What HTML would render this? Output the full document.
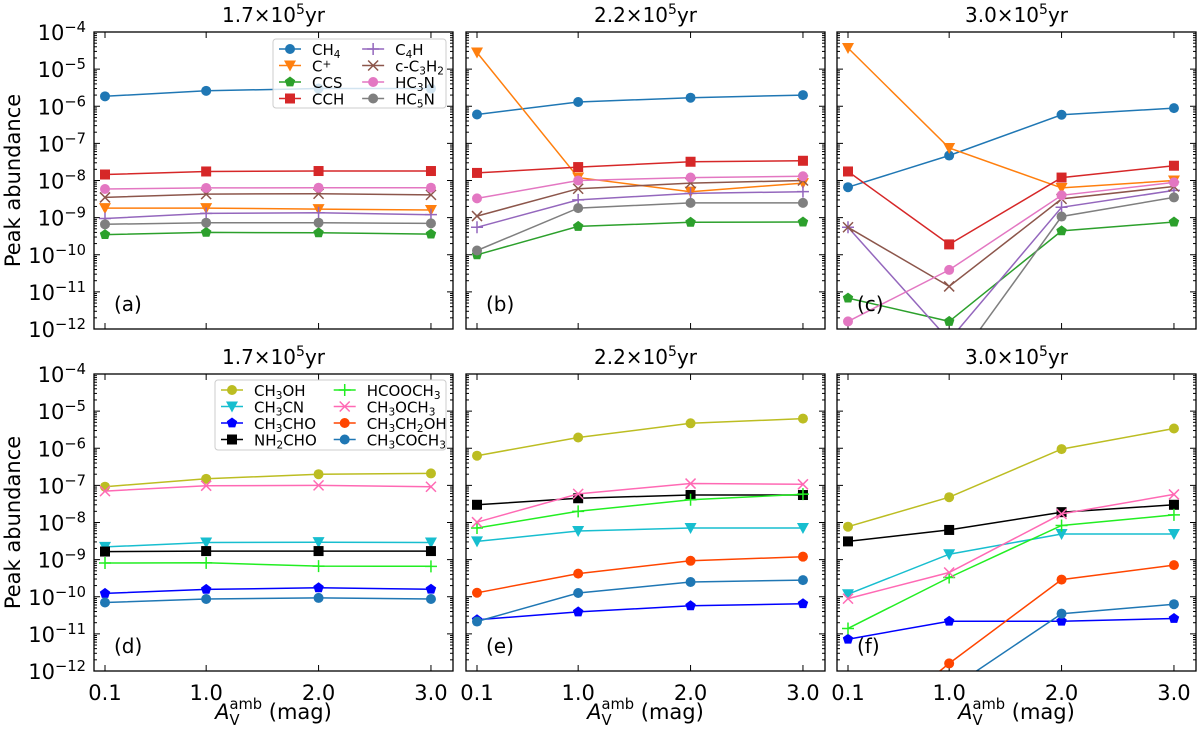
<!DOCTYPE html>
<html><head><meta charset="utf-8"><style>
html,body{margin:0;padding:0;background:#fff}
svg{display:block;font-family:"DejaVu Sans","Liberation Sans",sans-serif}
</style></head><body>
<svg id="fig" width="1200" height="731" viewBox="0 0 1200 731" xmlns="http://www.w3.org/2000/svg"></svg>
<script>
const xCats = [0.1, 1.0, 2.0, 3.0];
const xTickLabels = ["0.1", "1.0", "2.0", "3.0"];
const yTickExps = [-4, -5, -6, -7, -8, -9, -10, -11, -12];
const panelTitles = ["1.7×10", "2.2×10", "3.0×10"];
const panelLetters = [["(a)", "(b)", "(c)"], ["(d)", "(e)", "(f)"]];

const topNames = ["CH4", "C+", "CCS", "CCH", "C4H", "c-C3H2", "HC3N", "HC5N"];
const botNames = ["CH3OH", "CH3CN", "CH3CHO", "NH2CHO", "HCOOCH3", "CH3OCH3", "CH3CH2OH", "CH3COCH3"];

// panel (a) 1.7e5 yr
const a_CH4 = [1.85e-6, 2.6e-6, 3e-6, 3e-6];
const a_Cp = [1.8e-9, 1.8e-9, 1.7e-9, 1.6e-9];
const a_CCS = [3.5e-10, 4e-10, 3.9e-10, 3.6e-10];
const a_CCH = [1.45e-8, 1.75e-8, 1.8e-8, 1.8e-8];
const a_C4H = [9.5e-10, 1.3e-9, 1.35e-9, 1.2e-9];
const a_cC3H2 = [3.5e-9, 4.3e-9, 4.4e-9, 4.1e-9];
const a_HC3N = [5.9e-9, 6.3e-9, 6.4e-9, 6.4e-9];
const a_HC5N = [6.6e-10, 7.3e-10, 7.3e-10, 7e-10];
// panel (b)
const b_CH4 = [6e-7, 1.3e-6, 1.7e-6, 2e-6];
const b_Cp = [2.8e-5, 1.2e-8, 5e-9, 8.5e-9];
const b_CCS = [1e-10, 5.8e-10, 7.5e-10, 7.6e-10];
const b_CCH = [1.6e-8, 2.3e-8, 3.2e-8, 3.4e-8];
const b_C4H = [5.5e-10, 3e-9, 4.5e-9, 5e-9];
const b_cC3H2 = [1.1e-9, 6e-9, 8.5e-9, 1e-8];
const b_HC3N = [3.3e-9, 1e-8, 1.2e-8, 1.3e-8];
const b_HC5N = [1.3e-10, 1.8e-9, 2.5e-9, 2.5e-9];
// panel (c)
const c_CH4 = [6.6e-9, 4.7e-8, 5.9e-7, 8.9e-7];
const c_Cp = [3.7e-5, 7.5e-8, 6.3e-9, 1e-8];
const c_CCS = [6.8e-12, 1.6e-12, 4.4e-10, 7.6e-10];
const c_CCH = [1.75e-8, 1.9e-10, 1.2e-8, 2.5e-8];
const c_C4H = [5.5e-10, 5e-13, 1.9e-9, 5.4e-9];
const c_cC3H2 = [5.5e-10, 1.4e-11, 3.2e-9, 6.9e-9];
const c_HC3N = [1.6e-12, 3.9e-11, 4e-9, 8.9e-9];
const c_HC5N = [1e-13, 7e-14, 1.07e-9, 3.5e-9];
// panel (d)
const d_CH3OH = [9.2e-8, 1.5e-7, 2e-7, 2.1e-7];
const d_CH3CN = [2.2e-9, 2.9e-9, 2.95e-9, 2.9e-9];
const d_CH3CHO = [1.23e-10, 1.58e-10, 1.74e-10, 1.6e-10];
const d_NH2CHO = [1.65e-9, 1.7e-9, 1.7e-9, 1.7e-9];
const d_HCOOCH3 = [8.1e-10, 8.2e-10, 6.7e-10, 6.6e-10];
const d_CH3OCH3 = [7e-8, 9.8e-8, 1e-7, 9.2e-8];
const d_CH3CH2OH = [1e-14, 1e-14, 1e-14, 1e-14];
const d_CH3COCH3 = [7e-11, 8.7e-11, 9.3e-11, 8.7e-11];
// panel (e)
const e_CH3OH = [6.3e-7, 1.95e-6, 4.7e-6, 6.3e-6];
const e_CH3CN = [3.1e-9, 5.9e-9, 7.1e-9, 7.1e-9];
const e_CH3CHO = [2.4e-11, 3.9e-11, 5.7e-11, 6.5e-11];
const e_NH2CHO = [3e-8, 4.5e-8, 5.5e-8, 5.5e-8];
const e_HCOOCH3 = [7.1e-9, 2e-8, 4.1e-8, 5.8e-8];
const e_CH3OCH3 = [1.02e-8, 5.9e-8, 1.12e-7, 1.07e-7];
const e_CH3CH2OH = [1.28e-10, 4.2e-10, 9.3e-10, 1.2e-9];
const e_CH3COCH3 = [2.15e-11, 1.26e-10, 2.5e-10, 2.8e-10];
// panel (f)
const f_CH3OH = [7.7e-9, 4.8e-8, 9.5e-7, 3.4e-6];
const f_CH3CN = [1.17e-10, 1.4e-9, 4.9e-9, 4.9e-9];
const f_CH3CHO = [7.2e-12, 2.2e-11, 2.2e-11, 2.6e-11];
const f_NH2CHO = [3.1e-9, 6.3e-9, 1.9e-8, 3e-8];
const f_HCOOCH3 = [1.4e-11, 3.3e-10, 8.3e-9, 1.6e-8];
const f_CH3OCH3 = [8.9e-11, 4.5e-10, 1.7e-8, 5.7e-8];
const f_CH3CH2OH = [1e-14, 1.6e-12, 2.9e-10, 7.1e-10];
const f_CH3COCH3 = [1e-14, 3.2e-13, 3.5e-11, 6.3e-11];

const topData = [
  [a_CH4, a_Cp, a_CCS, a_CCH, a_C4H, a_cC3H2, a_HC3N, a_HC5N],
  [b_CH4, b_Cp, b_CCS, b_CCH, b_C4H, b_cC3H2, b_HC3N, b_HC5N],
  [c_CH4, c_Cp, c_CCS, c_CCH, c_C4H, c_cC3H2, c_HC3N, c_HC5N]];
const botData = [
  [d_CH3OH, d_CH3CN, d_CH3CHO, d_NH2CHO, d_HCOOCH3, d_CH3OCH3, d_CH3CH2OH, d_CH3COCH3],
  [e_CH3OH, e_CH3CN, e_CH3CHO, e_NH2CHO, e_HCOOCH3, e_CH3OCH3, e_CH3CH2OH, e_CH3COCH3],
  [f_CH3OH, f_CH3CN, f_CH3CHO, f_NH2CHO, f_HCOOCH3, f_CH3OCH3, f_CH3CH2OH, f_CH3COCH3]];

const topStyle = [["#1f77b4","o"],["#ff7f0e","v"],["#2ca02c","p"],["#d62728","s"],["#9467bd","+"],["#8c564b","x"],["#e377c2","o"],["#7f7f7f","o"]];
const botStyle = [["#bcbd22","o"],["#17becf","v"],["#0000ff","p"],["#000000","s"],["#22ee22","+"],["#ff69b4","x"],["#ff4500","o"],["#1f77b4","o"]];
const topLabels = ["CH<tspan baseline-shift='-25%' font-size='70%'>4</tspan>","C<tspan baseline-shift='40%' font-size='70%'>+</tspan>","CCS","CCH","C<tspan baseline-shift='-25%' font-size='70%'>4</tspan>H","c-C<tspan baseline-shift='-25%' font-size='70%'>3</tspan>H<tspan baseline-shift='-25%' font-size='70%'>2</tspan>","HC<tspan baseline-shift='-25%' font-size='70%'>3</tspan>N","HC<tspan baseline-shift='-25%' font-size='70%'>5</tspan>N"];
const s3="<tspan baseline-shift='-25%' font-size='70%'>3</tspan>", s2="<tspan baseline-shift='-25%' font-size='70%'>2</tspan>";
const botLabels = ["CH"+s3+"OH","CH"+s3+"CN","CH"+s3+"CHO","NH"+s2+"CHO","HCOOCH"+s3,"CH"+s3+"OCH"+s3,"CH"+s3+"CH"+s2+"OH","CH"+s3+"COCH"+s3];

const NS="http://www.w3.org/2000/svg";
const svg=document.getElementById('fig');
const panelLefts=[94,466,837], panelW=359, rowTops=[32,374], panelH=297;
function mk(tag,attrs,parent){const e=document.createElementNS(NS,tag);for(const k in attrs)e.setAttribute(k,attrs[k]);(parent||svg).appendChild(e);return e;}
function xScale(col,v){return panelLefts[col]+11+(v-0.1)*112.4;}
function yScale(row,v){return rowTops[row]+(-4-Math.log10(v))*(panelH/8);}

function marker(g,type,x,y,color){
  let m;
  if(type==="o") m=mk('circle',{cx:x,cy:y,r:5,fill:color},g);
  else if(type==="s") m=mk('rect',{x:x-5,y:y-5,width:10,height:10,fill:color},g);
  else if(type==="v") m=mk('polygon',{points:`${x-6},${y-5} ${x+6},${y-5} ${x},${y+6}`,fill:color},g);
  else if(type==="p"){let p=[];for(let i=0;i<5;i++){const a=-Math.PI/2+i*2*Math.PI/5;p.push((x+5.5*Math.cos(a)).toFixed(1)+","+(y+5.5*Math.sin(a)).toFixed(1));}m=mk('polygon',{points:p.join(" "),fill:color},g);}
  else if(type==="+") m=mk('path',{d:`M${x-6},${y}H${x+6}M${x},${y-6}V${y+6}`,stroke:color,'stroke-width':1.5,fill:'none'},g);
  else m=mk('path',{d:`M${x-5},${y-5}L${x+5},${y+5}M${x-5},${y+5}L${x+5},${y-5}`,stroke:color,'stroke-width':1.5,fill:'none'},g);
  return m;
}

const defs=mk('defs',{});
for(let r=0;r<2;r++){
  for(let c=0;c<3;c++){
    const L=panelLefts[c],T=rowTops[r];
    const cp=mk('clipPath',{id:`clip${r}${c}`},defs);
    mk('rect',{x:L,y:T,width:panelW,height:panelH},cp);
    const pg=mk('g',{});
    
    
    // title
    const t=mk('text',{x:L+panelW/2,y:T-10,'text-anchor':'middle','font-size':20},pg);
    
    
    t.innerHTML=panelTitles[c]+"<tspan baseline-shift='super' font-size='70%'>5</tspan>yr";
    // ticks
    const tk=mk('g',{stroke:'#000','stroke-width':1},pg);
    
    
    for(const e of yTickExps){
      const y=yScale(r,Math.pow(10,e));
      mk('line',{x1:L,x2:L+6,y1:y,y2:y},tk);mk('line',{x1:L+panelW-6,x2:L+panelW,y1:y,y2:y},tk);
      if(e>-12) for(let k=2;k<10;k++){const yy=yScale(r,k*Math.pow(10,e-1));mk('line',{x1:L,x2:L+3,y1:yy,y2:yy},tk);mk('line',{x1:L+panelW-3,x2:L+panelW,y1:yy,y2:yy},tk);}
      if(c===0){
        const lab=mk('text',{x:L-8,y:y+8,'text-anchor':'end','font-size':21,stroke:'none'},pg);
        
        
        lab.innerHTML="10<tspan baseline-shift='super' font-size='70%'>−"+(-e)+"</tspan>";
      }
    }
    xCats.forEach((v,i)=>{
      const x=xScale(c,v);
      mk('line',{x1:x,x2:x,y1:T,y2:T+6},tk);mk('line',{x1:x,x2:x,y1:T+panelH-6,y2:T+panelH},tk);
      if(r===1){
        const lab=mk('text',{x:x,y:T+panelH+29,'text-anchor':'middle','font-size':21},pg);
        
        
        lab.textContent=xTickLabels[i];
      }
    });
    // series
    const data=r===0?topData[c]:botData[c], st=r===0?topStyle:botStyle, names=r===0?topNames:botNames;
    const sg=mk('g',{'clip-path':`url(#clip${r}${c})`},pg);
    data.forEach((vals,si)=>{
      const g=mk('g',{},sg);
      
      
      const pts=vals.map((v,i)=>xScale(c,xCats[i]).toFixed(1)+","+yScale(r,v).toFixed(1));
      mk('polyline',{points:pts.join(" "),fill:'none',stroke:st[si][0],'stroke-width':1.5},g);
      vals.forEach((v,i)=>{
        const m=marker(g,st[si][1],xScale(c,xCats[i]),yScale(r,v),st[si][0]);
        
        
      });
    });
    // frame
    const fr=mk('rect',{x:L,y:T,width:panelW,height:panelH,fill:'none',stroke:'#000','stroke-width':1.3},pg);
    
    
    const pl=mk('text',{x:L+20,y:T+panelH-18,'font-size':20},pg);
    
    
    pl.textContent=panelLetters[r][c];
  }
}

function legend(x,y,w,h,labels,styles,name){
  const g=mk('g',{});
  
  
  mk('rect',{x:x,y:y,width:w,height:h,rx:3,fill:'#fff','fill-opacity':0.8,stroke:'#ccc'},g);
  const colW=(w-10)/2;
  labels.forEach((lab,i)=>{
    const col=Math.floor(i/4),row=i%4;
    const ex=x+6+col*colW*1.02, ey=y+10+row*16.5;
    const e=mk('g',{},g);
    
    
    mk('line',{x1:ex,x2:ex+22,y1:ey,y2:ey,stroke:styles[i][0],'stroke-width':1.5},e);
    marker(e,styles[i][1],ex+11,ey,styles[i][0]);
    const t=mk('text',{x:ex+33,y:ey+6,'font-size':15},e);
    t.innerHTML=lab;
  });
}
legend(273,39,173,69,topLabels,topStyle,'legend-top');
legend(215,380,231,70,botLabels,botStyle,'legend-bottom');

for(let r=0;r<2;r++){
  const yl=mk('text',{x:0,y:0,'font-size':21,'text-anchor':'middle',transform:`translate(20,${rowTops[r]+panelH/2}) rotate(-90)`});
  
  
  yl.textContent="Peak abundance";
}
for(let c=0;c<3;c++){
  const xl=mk('text',{x:panelLefts[c]+panelW/2,y:719,'font-size':21,'text-anchor':'middle'});
  
  
  xl.innerHTML="<tspan font-style='italic'>A</tspan><tspan dy='6' font-size='70%'>V</tspan><tspan dx='-9' dy='-16' font-size='70%'>amb</tspan><tspan dy='10'> (mag)</tspan>";
}
</script>
</body></html>
